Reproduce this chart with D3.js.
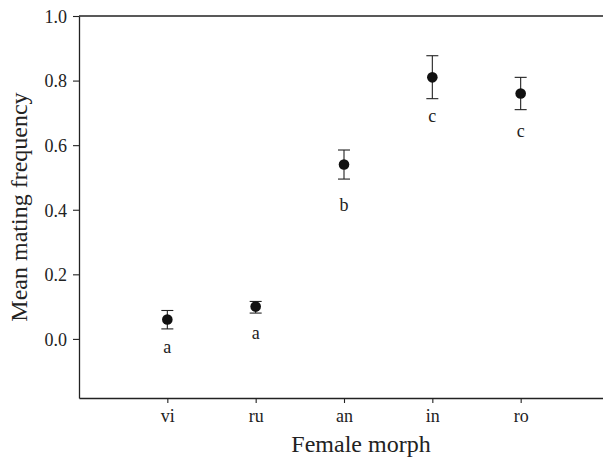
<!DOCTYPE html>
<html>
<head>
<meta charset="utf-8">
<script src="https://cdn.jsdelivr.net/npm/d3@7"></script>
<style>
  body { margin: 0; background: #fff; }
  text { font-family: "Liberation Serif", "DejaVu Serif", serif; fill: #222; }
</style>
</head>
<body>
<svg id="chart" width="603" height="459"></svg>
<script>
// morphs on the x axis
var morphs = ["vi", "ru", "an", "in", "ro"];
// mean mating frequency and error bar ends
var means = [0.06, 0.10, 0.54, 0.81, 0.76];
var errLow = [0.031, 0.080, 0.495, 0.744, 0.710];
var errHigh = [0.088, 0.116, 0.585, 0.877, 0.810];
// significance letters, and where they sit (data units)
var letters = ["a", "a", "b", "c", "c"];
var letterAt = [-0.045, 0.0, 0.395, 0.672, 0.625];
var yTicks = [0.0, 0.2, 0.4, 0.6, 0.8, 1.0];

var svg = d3.select("#chart");
var plotLeft = 79, plotTop = 16, plotBottom = 398, plotRight = 609;

var x = d3.scaleLinear().domain([0, 6]).range([plotLeft, plotRight]);
var y = d3.scaleLinear().domain([-0.183, 1.0]).range([plotBottom, plotTop]);

// frame (top + bottom lines run off the right edge)
svg.append("line").attr("x1", plotLeft).attr("x2", plotRight).attr("y1", plotTop).attr("y2", plotTop)
    .attr("stroke", "#222").attr("stroke-width", 1.3);

var yAxis = svg.append("g")
    .attr("transform", "translate(" + plotLeft + ",0)")
    .call(d3.axisLeft(y).tickValues(yTicks).tickFormat(d3.format(".1f")).tickSize(6).tickSizeOuter(0));

var xAxis = svg.append("g")
    .attr("transform", "translate(0," + plotBottom + ")")
    .call(d3.axisBottom(x).tickValues([1, 2, 3, 4, 5])
        .tickFormat(function (d) { return morphs[d - 1]; }).tickSize(5).tickSizeOuter(0));

[yAxis, xAxis].forEach(function (ax) {
    ax.select(".domain").attr("stroke", "#222").attr("stroke-width", 1.3);
    ax.selectAll(".tick line").attr("stroke", "#222").attr("stroke-width", 1.1);
    ax.selectAll(".tick text").attr("font-size", 18).attr("font-family", "Liberation Serif").attr("fill", "#222");
});
yAxis.selectAll(".tick text").attr("x", -12).attr("dy", "0.35em");
xAxis.selectAll(".tick text").attr("y", 11);

// error bars
var g = svg.append("g");
morphs.forEach(function (m, i) {
    var cx = x(i + 1);
    g.append("line").attr("x1", cx).attr("x2", cx)
        .attr("y1", y(errLow[i])).attr("y2", y(errHigh[i]))
        .attr("stroke", "#222").attr("stroke-width", 1.1);
    [errLow[i], errHigh[i]].forEach(function (v) {
        g.append("line").attr("x1", cx - 6).attr("x2", cx + 6)
            .attr("y1", y(v)).attr("y2", y(v))
            .attr("stroke", "#222").attr("stroke-width", 1.1);
    });
    g.append("circle").attr("cx", cx).attr("cy", y(means[i])).attr("r", 5.3).attr("fill", "#111");
    g.append("text").attr("x", cx).attr("y", y(letterAt[i]))
        .attr("text-anchor", "middle").attr("font-size", 18).text(letters[i]);
});

// axis titles
svg.append("text").attr("x", (plotLeft + 603) / 2 + 20).attr("y", 452)
    .attr("text-anchor", "middle").attr("font-size", 24).text("Female morph");
svg.append("text")
    .attr("transform", "translate(27," + ((plotTop + plotBottom) / 2) + ") rotate(-90)")
    .attr("text-anchor", "middle").attr("font-size", 24).text("Mean mating frequency");
</script>
</body>
</html>
